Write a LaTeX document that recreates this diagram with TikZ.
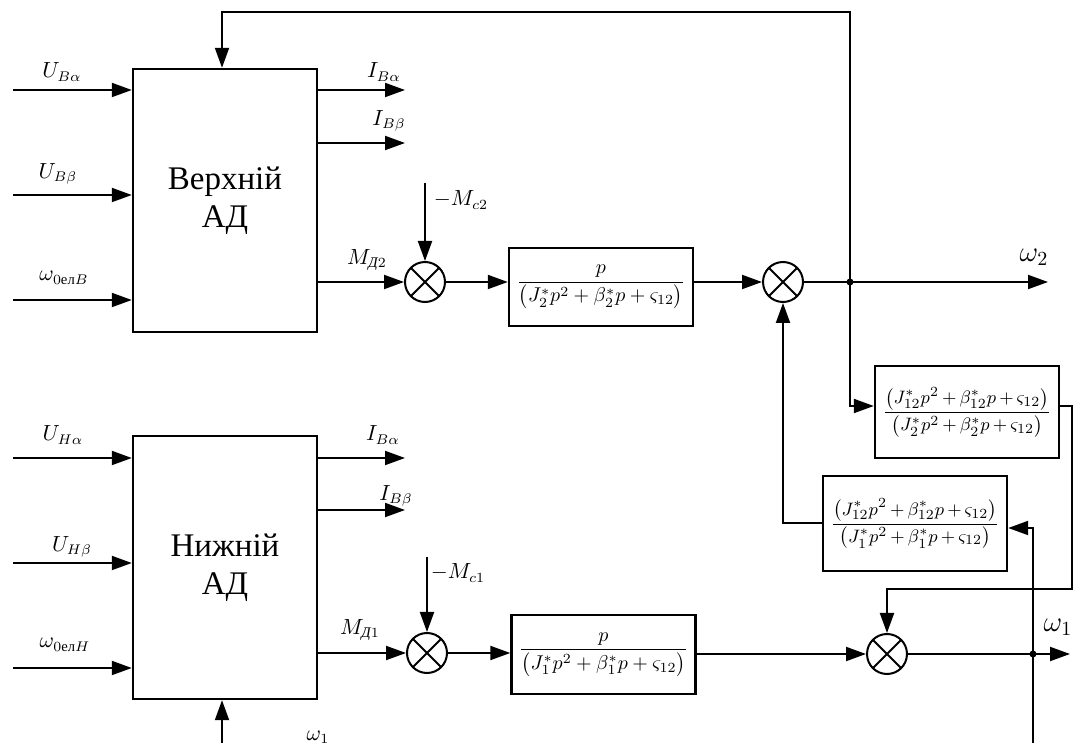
\documentclass[tikz,border=0pt]{standalone}
\usepackage{amsmath}
\usepackage{fontspec}
\setmainfont{Liberation Serif}
\usetikzlibrary{arrows.meta,positioning}

\begin{document}
\begin{tikzpicture}[x=0.5pt,y=-0.5pt,line width=1pt,
 blk/.style={draw,line width=1.2pt,minimum width=92pt,minimum height=131.5pt,align=center,font=\fontsize{16.5}{19}\selectfont},
 box/.style={draw,line width=1.2pt,minimum width=92pt,inner sep=0pt,font=\fontsize{10}{12}\selectfont},
 wide/.style={box,font=\fontsize{9.5}{11}\selectfont},
 sum/.style={draw,circle,minimum size=20pt,inner sep=0pt,
  path picture={\draw (path picture bounding box.north east)--(path picture bounding box.south west)
   (path picture bounding box.north west)--(path picture bounding box.south east);}},
 arr/.style={-{Triangle[length=10pt,width=7pt]}},
 dot/.style={circle,fill,inner sep=0pt,minimum size=3.5pt},
 lbl/.style={font=\fontsize{10.5}{12}\selectfont,inner sep=0pt},
 big/.style={font=\fontsize{14}{16}\selectfont,inner sep=0pt}]
\useasboundingbox (0,0) rectangle (1073,743);
% upper motor
\node[blk] (up) at (225,200.5) {Верхній\\АД};
\coordinate (ua) at (13,90); \coordinate (ub) at (13,195); \coordinate (uw) at (13,300);
\draw[arr] (ua)--(ua -| up.west); \draw[arr] (ub)--(ub -| up.west); \draw[arr] (uw)--(uw -| up.west);
\node[lbl] (lua) at (62,72) {$U_{B\alpha}$};
\node[lbl] (lub) at (58,174) {$U_{B\beta}$};
\node[lbl] (luw) at (64,278) {$\omega_{0\text{ел}B}$};
\coordinate (ia) at (405,90); \coordinate (ib) at (405,143);
\draw[arr] (ia -| up.east)--(ia); \draw[arr] (ib -| up.east)--(ib);
\node[lbl] (lia) at (384,72) {$I_{B\alpha}$};
\node[lbl] (lib) at (389,121) {$I_{B\beta}$};
\node[sum] (s1) at (425,282) {};
\draw[arr] (s1 -| up.east)--(s1);
\node[lbl] (lmd2) at (367,260) {$M_{\text{\itshape Д}2}$};
\coordinate (mc2) at (425,183);
\draw[arr] (mc2)--(s1);
\node[lbl] (lmc2) at (461,200) {$-M_{c2}$};
\node[box,minimum height=39pt] (t2) at (601,287)
 {$\dfrac{p}{\bigl(J_2^{*}p^{2}+\beta_2^{*}p+\varsigma_{12}\bigr)}$};
\draw[arr] (s1)--(s1 -| t2.west);
\node[sum] (s2) at (783,282) {};
\draw[arr] (s2 -| t2.east)--(s2);
\node[dot] (j2) at (850,282) {};
\coordinate (w2) at (1048,282);
\draw[arr] (s2)--(w2);
\node[big] (lw2) at (1034,257) {$\omega_2$};
\coordinate (fb) at (222,12);
\draw[arr] (j2.center) |- (fb)--(fb |- up.north);
% cross coupling
\node[wide,minimum height=46pt] (r1) at (967,412)
 {$\medmuskip=3mu\relax\dfrac{\bigl(J_{12}^{*}p^{2}+\beta_{12}^{*}p+\varsigma_{12}\bigr)}{\bigl(J_2^{*}p^{2}+\beta_2^{*}p+\varsigma_{12}\bigr)}$};
\node[wide,minimum height=47.5pt] (r2) at (915,523.5)
 {$\medmuskip=3mu\relax\dfrac{\bigl(J_{12}^{*}p^{2}+\beta_{12}^{*}p+\varsigma_{12}\bigr)}{\bigl(J_1^{*}p^{2}+\beta_1^{*}p+\varsigma_{12}\bigr)}$};
\draw[arr] (j2.center) |- ([yshift=3pt]r1.west);
\draw[arr] (r2.west) -| (s2);
% lower motor
\node[blk] (dn) at (225,567.5) {Нижній\\АД};
\coordinate (ha) at (13,458); \coordinate (hb) at (13,563); \coordinate (hw) at (13,668);
\draw[arr] (ha)--(ha -| dn.west); \draw[arr] (hb)--(hb -| dn.west); \draw[arr] (hw)--(hw -| dn.west);
\node[lbl] (lha) at (63,435) {$U_{H\alpha}$};
\node[lbl] (lhb) at (72,547) {$U_{H\beta}$};
\node[lbl] (lhw) at (65,645) {$\omega_{0\text{ел}H}$};
\coordinate (ja) at (405,458); \coordinate (jb) at (405,510);
\draw[arr] (ja -| dn.east)--(ja); \draw[arr] (jb -| dn.east)--(jb);
\node[lbl] (lja) at (383,435) {$I_{B\alpha}$};
\node[lbl] (ljb) at (396,496) {$I_{B\beta}$};
\node[sum] (s3) at (427,653) {};
\draw[arr] (s3 -| dn.east)--(s3);
\node[lbl] (lmd1) at (360,630) {$M_{\text{\itshape Д}1}$};
\coordinate (mc1) at (427,557);
\draw[arr] (mc1)--(s3);
\node[lbl] (lmc1) at (458,573) {$-M_{c1}$};
\node[box,minimum height=39.5pt] (t1) at (603.5,654.5)
 {$\dfrac{p}{\bigl(J_1^{*}p^{2}+\beta_1^{*}p+\varsigma_{12}\bigr)}$};
\draw[arr] (s3)--(s3 -| t1.west);
\node[sum] (s4) at (887,654) {};
\draw[arr] (s4 -| t1.east)--(s4);
\coordinate (c1) at (1072,589);
\draw[arr] ([yshift=3pt]r1.east) -| (c1) -| (s4);
\node[dot] (j1) at (1033,654) {};
\coordinate (w1) at (1070,654);
\draw[arr] (s4)--(w1);
\node[big] (lw1) at (1058,627) {$\omega_1$};
\coordinate (w1b) at (1033,743);
\draw[arr] (w1b) |- ([yshift=-2.25pt]r2.east);
\coordinate (w1c) at (222,743);
\draw[arr] (w1c)--(w1c |- dn.south);
\node[lbl] (lw1c) at (318,737) {$\omega_1$};
\end{tikzpicture}
\end{document}
